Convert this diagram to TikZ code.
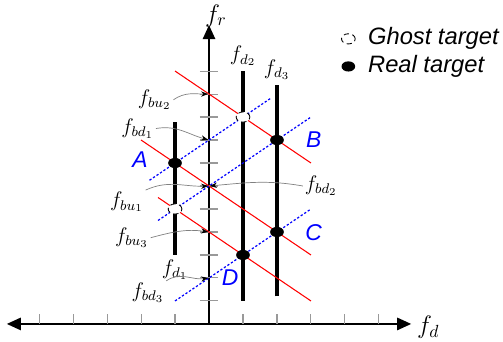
\documentclass[tikz,border=0pt]{standalone}
\usepackage{fontspec}
\newfontfamily\labfont{Liberation Sans}
\usetikzlibrary{arrows.meta,shapes.geometric}
\tikzset{
  axisline/.style={line width=1.1pt},
  axistip/.style={-{Triangle[length=8pt,width=7pt]}},
  tickline/.style={gray!80,line width=0.6pt},
  barline/.style={line width=2pt},
  redline/.style={red,line width=0.6pt},
  blueline/.style={blue,line width=0.7pt,dash pattern=on 1.3pt off 1.1pt},
  realtgt/.style={ellipse,fill=black,inner sep=0pt,minimum width=7.8pt,minimum height=5.8pt},
  ghosttgt/.style={ellipse,draw=black,fill=white,densely dashed,line width=0.5pt,inner sep=0pt,minimum width=7.8pt,minimum height=5.8pt},
  tgtlabel/.style={blue,font=\labfont\itshape\fontsize{13}{15}\selectfont},
  freqlabel/.style={font=\large,inner sep=1pt},
  legtext/.style={anchor=west,font=\labfont\itshape\fontsize{13.5}{16}\selectfont},
  note/.style={draw=gray,line width=0.4pt,shorten >=0.5pt,-{Stealth[black,length=4pt,width=3pt]}}
}
\begin{document}
\begin{tikzpicture}[x=0.68cm,y=0.46cm]
\useasboundingbox (-6.15,-0.78) rectangle (8.65,14.09);

% axes
\draw[axisline,{Triangle[length=8pt,width=7pt]}-{Triangle[length=8pt,width=7pt]}] (-5.95,0) -- (5.95,0);
\draw[axisline,axistip] (0,0) -- (0,13);
\foreach \k in {-5,...,-1,1,2,...,5}
  \draw[tickline] (\k,0) -- (\k,0.43);
\foreach \k in {1,...,11} {
  \draw[tickline] (-0.27,\k) -- (0.27,\k);
  \coordinate (r\k) at (0,\k);
}
\node[freqlabel,font=\Large] (fr) at (0.2,13.4) {$f_r$};
\node[freqlabel,font=\Large] (fd) at (6.45,-0.15) {$f_d$};

% doppler bars
\draw[barline] (-1,3) -- (-1,8.8);
\draw[barline] (1,1) -- (1,11);
\draw[barline] (2,1.2) -- (2,10.4);
\node[freqlabel] (fd1) at (-1,2.35) {$f_{d_1}$};
\node[freqlabel] (fd2) at (1,11.65) {$f_{d_2}$};
\node[freqlabel] (fd3) at (2,11.05) {$f_{d_3}$};

% range-doppler lines
\draw[redline] (-1,11) -- (3,7);
\draw[redline] (-2,8) -- (3,3);
\draw[redline] (-1.5,5.5) -- (3,1);
\draw[blueline] (-1.75,6.25) -- (1.8,9.8);
\draw[blueline] (-1.5,4.5) -- (3,9);
\draw[blueline] (-1,1) -- (3,5);

% targets
\node[realtgt] (A) at (-1,7) {};
\node[realtgt] (B) at (2,8) {};
\node[realtgt] (C) at (2,4) {};
\node[realtgt] (D) at (1,3) {};
\node[ghosttgt] (G1) at (1,9) {};
\node[ghosttgt] (G2) at (-1,5) {};
\node[tgtlabel] (labA) at (-2.03,7.13) {A};
\node[tgtlabel] (labB) at (3.08,8) {B};
\node[tgtlabel] (labC) at (3.08,3.96) {C};
\node[tgtlabel] (labD) at (0.62,2) {D};

% beat frequencies
\node[freqlabel] (fbu2) at (-1.6,9.75) {$f_{bu_2}$};
\node[freqlabel] (fbd1) at (-2.1,8.5) {$f_{bd_1}$};
\node[freqlabel] (fbu1) at (-2.42,5.3) {$f_{bu_1}$};
\node[freqlabel] (fbd2) at (3.3,6) {$f_{bd_2}$};
\node[freqlabel] (fbu3) at (-2.27,3.75) {$f_{bu_3}$};
\node[freqlabel] (fbd3) at (-1.8,1.35) {$f_{bd_3}$};
\draw[note] (fbu2.east) to[out=35,in=180] (r10);
\draw[note] (fbd1.east) to[out=10,in=165] (r8);
\draw[note] (fbu1.north east) to[out=25,in=182] (r6);
\draw[note] (fbd2.west) to[out=170,in=5] (r6);
\draw[note] (fbu3.east) to[out=15,in=172] (r4);
\draw[note] (fbd3.north east) to[out=35,in=188] (r2);

% legend
\node[ghosttgt] (lg) at (4.1,12.4) {};
\node[legtext] (lgtext) at (4.5,12.4) {Ghost target};
\node[realtgt] (lr) at (4.1,11.2) {};
\node[legtext] (lrtext) at (4.5,11.2) {Real target};
\end{tikzpicture}
\end{document}
